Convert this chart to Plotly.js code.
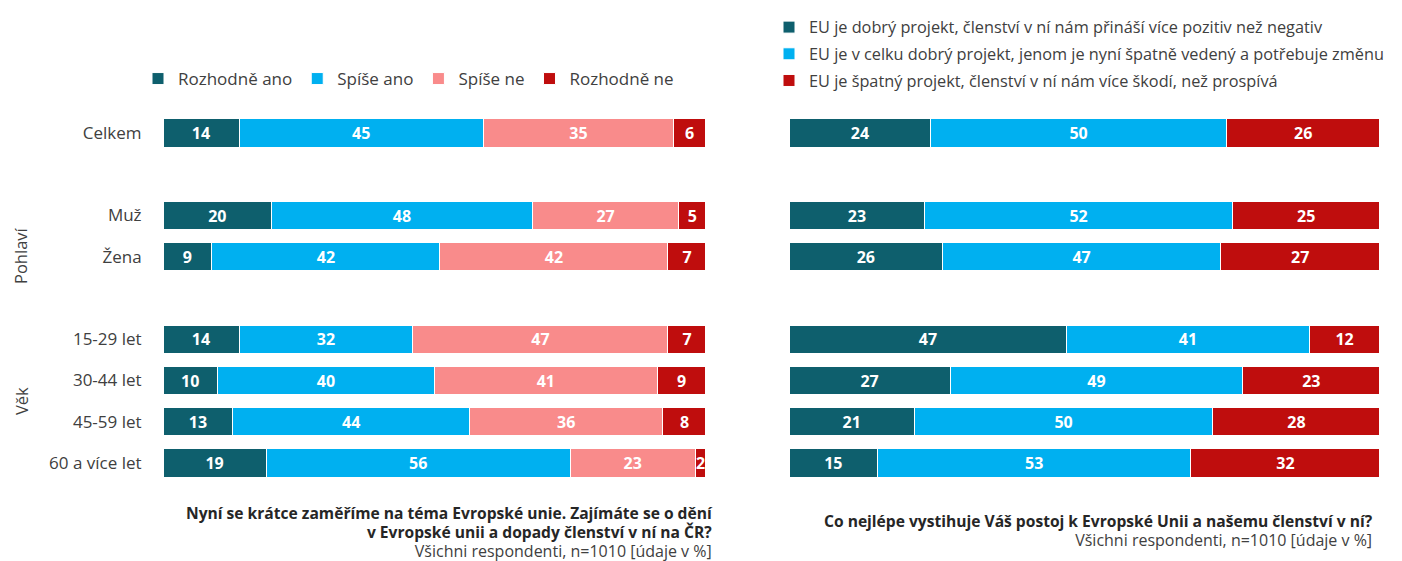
<!DOCTYPE html>
<html>
<head>
<meta charset="utf-8">
<script src="https://cdn.plot.ly/plotly-3.0.1.min.js"></script>
<style>html,body{margin:0;padding:0;background:#fff;}#chart{width:1402px;height:561px;}</style>
</head>
<body>
<div id="chart"></div>
<script>
// Category rows (blank entries are spacer rows between groups)
const categories = ["Celkem", "Muž", "Žena", "15-29 let", "30-44 let", "45-59 let", "60 a více let"];
const categoryOrder = ["Celkem", " ", "Muž", "Žena", "  ", "15-29 let", "30-44 let", "45-59 let", "60 a více let"];

// Left chart: Zajímáte se o dění v EU?
const leftSeriesNames = ["Rozhodně ano", "Spíše ano", "Spíše ne", "Rozhodně ne"];
const rozhodneAno = [14, 20, 9, 14, 10, 13, 19];
const spiseAno    = [45, 48, 42, 32, 40, 44, 56];
const spiseNe     = [35, 27, 42, 47, 41, 36, 23];
const rozhodneNe  = [6, 5, 7, 7, 9, 8, 2];

// Right chart: postoj k EU
const rightSeriesNames = [
  "EU je dobrý projekt, členství v ní nám přináší více pozitiv než negativ",
  "EU je v celku dobrý projekt, jenom je nyní špatně vedený a potřebuje změnu",
  "EU je špatný projekt, členství v ní nám více škodí, než prospívá"
];
const dobryProjekt  = [24, 23, 26, 47, 27, 21, 15];
const vCelkuDobry   = [50, 52, 47, 41, 49, 50, 53];
const spatnyProjekt = [26, 25, 27, 12, 23, 28, 32];

const groupLabels = ["Pohlaví", "Věk"];
const leftTitle = ["Nyní se krátce zaměříme na téma Evropské unie. Zajímáte se o dění", "v Evropské unii a dopady členství v ní na ČR?"];
const rightTitle = ["Co nejlépe vystihuje Váš postoj k Evropské Unii a našemu členství v ní?"];
const subtitle = "Všichni respondenti, n=1010 [údaje v %]";

const FONT = "Open Sans, Noto Sans, sans-serif";
const W = 1402, H = 561;
const px = v => v / W;
const py = v => 1 - v / H;

const leftColors = ["#0e5f6d", "#00b0f0", "#f98b8b", "#bf0d0d"];
const rightColors = ["#0e5f6d", "#00b0f0", "#bf0d0d"];

function barTrace(vals, name, color, xa, ya, legend, group) {
  return {
    type: "bar", orientation: "h",
    y: categories, x: vals, text: vals.map(String),
    texttemplate: "%{text}", textposition: "inside", insidetextanchor: "middle",
    textangle: 0,
    textfont: {family: FONT, size: 16, color: "#ffffff", weight: "bold"},
    name: name, xaxis: xa, yaxis: ya, legend: legend,
    legendgroup: group,
    marker: {color: color, line: {color: "#ffffff", width: 1}},
    hoverinfo: "skip", cliponaxis: false
  };
}

const leftVals = [rozhodneAno, spiseAno, spiseNe, rozhodneNe];
const rightVals = [dobryProjekt, vCelkuDobry, spatnyProjekt];
const traces = [];
leftVals.forEach((v, i) => traces.push(barTrace(v, leftSeriesNames[i], leftColors[i], "x", "y", "legend", undefined)));
rightVals.forEach((v, i) => traces.push(barTrace(v, rightSeriesNames[i], rightColors[i], "x2", "y2", "legend2", "g" + i)));

const rowTop = 108.25, rowBottom = 487.75;
const yaxisBase = {
  type: "category", categoryorder: "array", categoryarray: categoryOrder,
  range: [8.6, -0.6], autorange: false, domain: [py(rowBottom), py(rowTop)],
  showgrid: false, zeroline: false, showline: false, fixedrange: true
};

const boldLine = t => '<span style="font-size:15.6px;color:#262626"><b>' + t + '</b></span>';
const subLine = t => '<span style="font-size:16px;color:#404040">' + t + '</span>';

const annotations = [];
annotations.push({xref: "paper", yref: "paper", x: px(21), y: py(256), text: groupLabels[0], textangle: -90,
  showarrow: false, xanchor: "center", yanchor: "middle", font: {family: FONT, size: 16.5, color: "#404040"}});
annotations.push({xref: "paper", yref: "paper", x: px(21), y: py(401), text: groupLabels[1], textangle: -90,
  showarrow: false, xanchor: "center", yanchor: "middle", font: {family: FONT, size: 16.5, color: "#404040"}});
annotations.push({xref: "paper", yref: "paper", x: px(714), y: py(532), align: "right",
  text: leftTitle.map(boldLine).join("<br>") + "<br>" + subLine(subtitle),
  showarrow: false, xanchor: "right", yanchor: "middle", borderpad: 0,
  font: {family: FONT, size: 14.8, color: "#262626"}});
annotations.push({xref: "paper", yref: "paper", x: px(1374), y: py(530.5), align: "right",
  text: rightTitle.map(boldLine).join("<br>") + "<br>" + subLine(subtitle),
  showarrow: false, xanchor: "right", yanchor: "middle", borderpad: 0,
  font: {family: FONT, size: 14.8, color: "#262626"}});

const layout = {
  width: W, height: H,
  margin: {l: 0, r: 0, t: 0, b: 0, autoexpand: false},
  paper_bgcolor: "#ffffff", plot_bgcolor: "#ffffff",
  barmode: "stack", barnorm: "percent", bargap: 0.32,
  font: {family: FONT, size: 16, color: "#404040"},
  uniformtext: {mode: "show", minsize: 16},
  showlegend: true,
  xaxis: {domain: [px(163), px(706)], range: [0, 100.001], autorange: false, visible: false, fixedrange: true},
  xaxis2: {domain: [px(789), px(1380)], range: [0, 100.001], autorange: false, visible: false, fixedrange: true},
  yaxis: Object.assign({}, yaxisBase, {anchor: "x", ticks: "outside", ticklen: 17, tickcolor: "rgba(0,0,0,0)",
    tickfont: {family: FONT, size: 17, color: "#404040"}}),
  yaxis2: Object.assign({}, yaxisBase, {anchor: "x2", showticklabels: false}),
  legend: {orientation: "h", x: px(138), y: py(79), xanchor: "left", yanchor: "middle",
    traceorder: "normal", font: {family: FONT, size: 17, color: "#404040"}, bgcolor: "rgba(0,0,0,0)"},
  legend2: {orientation: "v", x: px(769), y: py(10), xanchor: "left", yanchor: "top",
    traceorder: "grouped", tracegroupgap: 2.5, font: {family: FONT, size: 16.3, color: "#404040"}, bgcolor: "rgba(0,0,0,0)"},
  annotations: annotations
};

Plotly.newPlot("chart", traces, layout, {displayModeBar: false, staticPlot: true});
</script>
</body>
</html>
